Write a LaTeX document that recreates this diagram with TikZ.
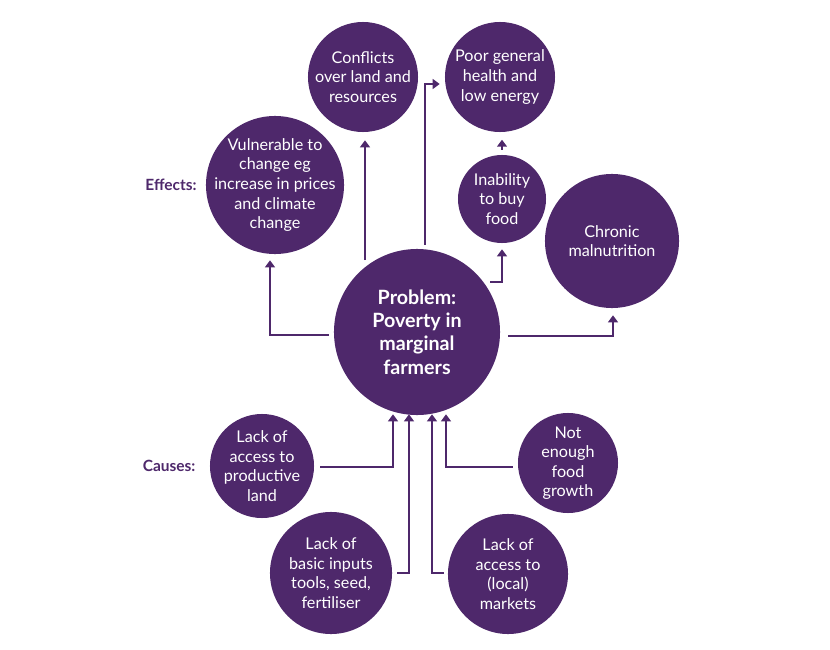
\documentclass[tikz,border=0pt]{standalone}
\usepackage{fontspec}
\setmainfont{Lato}
\usetikzlibrary{arrows.meta,calc,positioning}
\definecolor{plum}{HTML}{4E286B}
\tikzset{>={Triangle[length=5pt,width=7pt]},
  bubble/.style={circle,fill=plum,inner sep=0pt,minimum size=#1*0.05cm},
  btext/.style={text=white,align=center,inner sep=0pt,
    font=\fontsize{11.5}{13.9}\selectfont},
  link/.style={->,draw=plum,line width=1.4pt},
  tag/.style={text=plum,inner sep=0pt,font=\bfseries\fontsize{11}{13}\selectfont}}

\begin{document}
\begin{tikzpicture}[x=.025cm,y=-.025cm]
\useasboundingbox (0,0) rectangle (830,650);
% effects
\node[bubble=55,label={[btext]center:Conflicts\\over land and\\resources}] (conf) at (363,77) {};
\node[bubble=55,label={[btext]center:Poor general\\health and\\low energy}] (poor) at (500,77) {};
\node[bubble=69,label={[btext]center:Vulnerable to\\change eg\\increase in prices\\and climate\\change}] (vul) at (275,185) {};
\node[bubble=44,label={[btext]center:Inability\\to buy\\food}] (inab) at (502,199) {};
\node[bubble=67,label={[btext]center:Chronic\\malnutrition}] (chron) at (612,241) {};
\node[bubble=83,label={[btext,font=\bfseries\fontsize{14}{16.7}\selectfont]center:Problem:\\Poverty in\\marginal\\farmers}] (prob) at (417,332) {};
% causes
\node[bubble=52,label={[btext]center:Lack of\\access to\\productive\\land}] (land) at (262,466) {};
\node[bubble=50,label={[btext]center:Not\\enough\\food\\growth}] (food) at (568,463) {};
\node[bubble=61,label={[btext]center:Lack of\\basic inputs\\tools, seed,\\fertiliser}] (inp) at (331,573) {};
\node[bubble=60,label={[btext]center:Lack of\\access to\\(local)\\markets}] (mkt) at (508,574) {};
\node[tag,left=.22cm of vul] (eff) {Effects:};
\node[tag,left=.35cm of land] (cau) {Causes:};

\draw[link] ([shift={(-5,3)}]prob.west) -| ([shift={(-5,6)}]vul.south);
\draw[link] ([shift={(-52,-72)}]prob.center) -- ([shift={(2,8)}]conf.south);
\draw[link] ([shift={(8,-4)}]prob.north) |- ([shift={(-5,7)}]poor.west);
\draw[link] ([shift={(73,-50)}]prob.center) -| ([shift={(0,6)}]inab.south);
\draw[link] ([shift={(0,-5)}]inab.north) -- ([shift={(0,-15)}]inab.north);
\draw[link] ([shift={(8,4)}]prob.east) -| ([shift={(1,7)}]chron.south);

\draw[link] ([shift={(6,1)}]land.east) -| ([shift={(-24,-1)}]prob.south);
\draw[link] ([shift={(5,0)}]inp.east) -| ([shift={(-8,-1)}]prob.south);
\draw[link] ([shift={(-4,-1)}]mkt.west) -| ([shift={(15,-1)}]prob.south);
\draw[link] ([shift={(-5,4)}]food.west) -| ([shift={(29,-1)}]prob.south);
\end{tikzpicture}
\end{document}
